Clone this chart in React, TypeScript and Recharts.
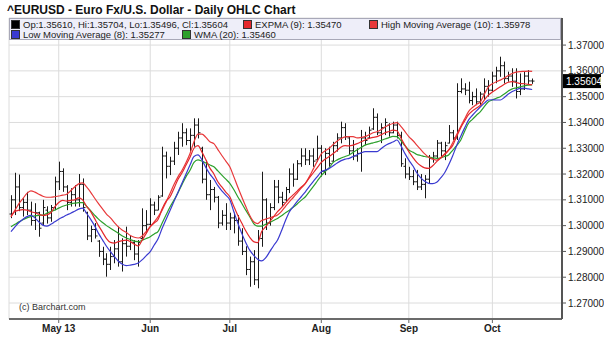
import React from 'react';
import { ComposedChart, Bar, Line, XAxis, YAxis, CartesianGrid, ReferenceLine } from 'recharts';

// daily EUR/USD bars, mid-April to mid-October
const opens = [
  1.3045, 1.31, 1.315, 1.307, 1.309, 1.306, 1.302, 1.305, 1.301, 1.306,
  1.303, 1.307, 1.317, 1.321, 1.315, 1.309, 1.312, 1.31, 1.316, 1.305,
  1.296, 1.2985, 1.294, 1.29, 1.287, 1.285, 1.288, 1.291, 1.286, 1.293,
  1.292, 1.2935, 1.289, 1.295, 1.3, 1.3005, 1.308, 1.306, 1.3115, 1.327,
  1.323, 1.325, 1.33, 1.334, 1.336, 1.333, 1.335, 1.339, 1.33, 1.318,
  1.312, 1.314, 1.311, 1.301, 1.304, 1.301, 1.303, 1.302, 1.294, 1.29,
  1.283, 1.286, 1.279, 1.295, 1.31, 1.301, 1.307, 1.315, 1.311, 1.31,
  1.314, 1.32, 1.318, 1.324, 1.327, 1.3255, 1.327, 1.3255, 1.33, 1.321,
  1.328, 1.325, 1.331, 1.334, 1.338, 1.334, 1.329, 1.327, 1.328, 1.334,
  1.334, 1.3375, 1.342, 1.336, 1.338, 1.339, 1.336, 1.339, 1.335, 1.323,
  1.32, 1.319, 1.317, 1.315, 1.316, 1.318, 1.326, 1.327, 1.332, 1.329,
  1.332, 1.336, 1.334, 1.352, 1.353, 1.3525, 1.3485, 1.35, 1.348, 1.351,
  1.354, 1.3525, 1.358, 1.36, 1.362, 1.357, 1.358, 1.356, 1.352, 1.353,
  1.358, 1.3561,
];
const highs = [
  1.3118, 1.3205, 1.3198, 1.3106, 1.3131, 1.3093, 1.3087, 1.3054, 1.31, 1.3075,
  1.308, 1.319, 1.3248, 1.3222, 1.3157, 1.3145, 1.3157, 1.32, 1.3183, 1.3054,
  1.3, 1.301, 1.2944, 1.2918, 1.2893, 1.2918, 1.2944, 1.2996, 1.2951, 1.2996,
  1.296, 1.2944, 1.2944, 1.3067, 1.306, 1.3106, 1.3093, 1.3118, 1.3306, 1.3287,
  1.3267, 1.3325, 1.3364, 1.3397, 1.3377, 1.3377, 1.3416, 1.3416, 1.3306, 1.3254,
  1.3177, 1.315, 1.3115, 1.306, 1.3087, 1.305, 1.305, 1.3041, 1.299, 1.292,
  1.288, 1.2905, 1.2983, 1.3209, 1.3106, 1.3087, 1.3177, 1.3177, 1.3131, 1.315,
  1.3222, 1.3241, 1.3254, 1.33, 1.33, 1.3293, 1.33, 1.3349, 1.3312, 1.33,
  1.3306, 1.3325, 1.3358, 1.3403, 1.3397, 1.3345, 1.3332, 1.33, 1.3371, 1.3364,
  1.3384, 1.3455, 1.3435, 1.3397, 1.3416, 1.3397, 1.3403, 1.3403, 1.3364, 1.3261,
  1.3228, 1.3216, 1.3216, 1.32, 1.3196, 1.3274, 1.3286, 1.3332, 1.3325, 1.3325,
  1.339, 1.3371, 1.3552, 1.3571, 1.3552, 1.3558, 1.3519, 1.3532, 1.3519, 1.3571,
  1.3564, 1.3597, 1.3616, 1.3655, 1.3636, 1.3597, 1.361, 1.361, 1.359, 1.3597,
  1.3603, 1.35704,
];
const lows = [
  1.3029, 1.3041, 1.3056, 1.3035, 1.3041, 1.3, 1.2983, 1.2957, 1.3, 1.3008,
  1.3015, 1.306, 1.3138, 1.3131, 1.306, 1.3074, 1.3074, 1.3073, 1.3054, 1.2944,
  1.2936, 1.295, 1.2879, 1.2847, 1.2802, 1.2828, 1.2854, 1.2841, 1.2822, 1.288,
  1.2905, 1.2866, 1.2841, 1.2944, 1.297, 1.3, 1.3041, 1.306, 1.3112, 1.3183,
  1.3196, 1.3235, 1.3274, 1.3306, 1.3312, 1.3287, 1.3306, 1.3338, 1.3164, 1.31,
  1.306, 1.309, 1.299, 1.3, 1.2983, 1.2983, 1.297, 1.2922, 1.2886, 1.2808,
  1.2763, 1.277, 1.2757, 1.2918, 1.2983, 1.3, 1.306, 1.3087, 1.3074, 1.3093,
  1.3126, 1.3151, 1.3177, 1.3228, 1.3235, 1.3235, 1.3228, 1.3248, 1.319, 1.3196,
  1.3228, 1.3248, 1.3287, 1.3319, 1.3332, 1.3274, 1.3254, 1.3248, 1.3209, 1.3312,
  1.3338, 1.3371, 1.3351, 1.332, 1.3351, 1.3345, 1.3358, 1.3338, 1.3228, 1.3183,
  1.3177, 1.3157, 1.3138, 1.3138, 1.3106, 1.3164, 1.3244, 1.3261, 1.3267, 1.3254,
  1.3319, 1.3332, 1.3332, 1.3513, 1.3506, 1.3474, 1.3467, 1.3467, 1.3467, 1.3487,
  1.35, 1.3519, 1.3552, 1.3577, 1.3551, 1.3558, 1.3538, 1.3493, 1.3506, 1.3526,
  1.3545, 1.35496,
];
const closes = [
  1.31, 1.315, 1.307, 1.309, 1.306, 1.302, 1.305, 1.299, 1.307, 1.303,
  1.307, 1.317, 1.321, 1.315, 1.309, 1.312, 1.31, 1.316, 1.307, 1.296,
  1.2985, 1.296, 1.29, 1.287, 1.285, 1.288, 1.291, 1.286, 1.293, 1.292,
  1.2935, 1.289, 1.2935, 1.3, 1.3005, 1.308, 1.306, 1.311, 1.327, 1.323,
  1.325, 1.33, 1.334, 1.336, 1.333, 1.335, 1.339, 1.336, 1.318, 1.312,
  1.314, 1.311, 1.301, 1.304, 1.301, 1.303, 1.302, 1.294, 1.29, 1.283,
  1.286, 1.279, 1.295, 1.31, 1.301, 1.307, 1.315, 1.311, 1.309, 1.314,
  1.32, 1.318, 1.324, 1.327, 1.3255, 1.327, 1.325, 1.33, 1.321, 1.328,
  1.324, 1.331, 1.334, 1.338, 1.3345, 1.329, 1.327, 1.328, 1.334, 1.333,
  1.337, 1.342, 1.336, 1.338, 1.34, 1.336, 1.339, 1.335, 1.324, 1.32,
  1.319, 1.317, 1.315, 1.316, 1.318, 1.326, 1.327, 1.332, 1.329, 1.331,
  1.336, 1.334, 1.352, 1.353, 1.3525, 1.3485, 1.35, 1.348, 1.351, 1.354,
  1.3525, 1.358, 1.36, 1.362, 1.357, 1.358, 1.356, 1.352, 1.353, 1.358,
  1.3561, 1.35604,
];

// studies as drawn on the chart
const highMa10 = [
  1.3035, 1.306, 1.3085, 1.3105, 1.3125, 1.3135, 1.313, 1.3122, 1.3114, 1.311,
  1.311, 1.3112, 1.3115, 1.3118, 1.3122, 1.3135, 1.315, 1.3162, 1.3166, 1.315,
  1.313, 1.3107, 1.3085, 1.3065, 1.3045, 1.303, 1.3012, 1.2995, 1.2982, 1.2973,
  1.2962, 1.2955, 1.2952, 1.296, 1.2978, 1.2996, 1.3015, 1.3035, 1.306, 1.3092,
  1.3126, 1.316, 1.319, 1.3215, 1.3245, 1.328, 1.3325, 1.3355, 1.3355, 1.3342,
  1.3325, 1.3318, 1.3295, 1.3272, 1.325, 1.3228, 1.319, 1.315, 1.3112, 1.3075,
  1.304, 1.3015, 1.3008, 1.302, 1.3025, 1.303, 1.3035, 1.3041, 1.3055, 1.3075,
  1.3093, 1.311, 1.3128, 1.3146, 1.3164, 1.319, 1.322, 1.325, 1.3278, 1.329,
  1.33, 1.3315, 1.3328, 1.3338, 1.3344, 1.3345, 1.3345, 1.334, 1.3342, 1.3345,
  1.3352, 1.336, 1.3364, 1.3372, 1.3382, 1.339, 1.3396, 1.3399, 1.3385, 1.3365,
  1.3345, 1.333, 1.3312, 1.3295, 1.3278, 1.3265, 1.3258, 1.3254, 1.3262, 1.3275,
  1.3293, 1.332, 1.3352, 1.3383, 1.3413, 1.3442, 1.3458, 1.347, 1.348, 1.351,
  1.3538, 1.355, 1.3558, 1.3564, 1.3572, 1.3582, 1.359, 1.3595, 1.3597, 1.3598,
  1.3599, 1.35978,
];
const expma9 = [
  1.3035, 1.3055, 1.306, 1.3062, 1.306, 1.3054, 1.305, 1.3044, 1.304, 1.3042,
  1.305, 1.3073, 1.309, 1.3098, 1.3095, 1.3098, 1.31, 1.3108, 1.31, 1.3075,
  1.3055, 1.3028, 1.3, 1.2975, 1.295, 1.2935, 1.2932, 1.2938, 1.2942, 1.2944,
  1.2938, 1.2928, 1.2921, 1.2945, 1.297, 1.2996, 1.301, 1.3025, 1.3065, 1.3095,
  1.3112, 1.3145, 1.318, 1.3205, 1.3235, 1.3265, 1.33, 1.331, 1.3285, 1.3255,
  1.3223, 1.32, 1.317, 1.315, 1.313, 1.3112, 1.3075, 1.304, 1.301, 1.298,
  1.2955, 1.2938, 1.2934, 1.2977, 1.2995, 1.3015, 1.3035, 1.3054, 1.307, 1.3088,
  1.3106, 1.312, 1.3135, 1.315, 1.3164, 1.3185, 1.3205, 1.3225, 1.3245, 1.3258,
  1.3268, 1.328, 1.3292, 1.3305, 1.331, 1.3309, 1.3312, 1.3318, 1.3325, 1.3332,
  1.3338, 1.3342, 1.3345, 1.3352, 1.336, 1.3365, 1.337, 1.3368, 1.334, 1.3312,
  1.3287, 1.3265, 1.3245, 1.3232, 1.3224, 1.3222, 1.3232, 1.3248, 1.3262, 1.3278,
  1.3293, 1.331, 1.3345, 1.3378, 1.3405, 1.343, 1.3445, 1.3456, 1.3467, 1.3488,
  1.3506, 1.3518, 1.3528, 1.3538, 1.3548, 1.3556, 1.3558, 1.3555, 1.3551, 1.355,
  1.3548, 1.3547,
];
const lowMa8 = [
  1.2977, 1.2995, 1.3012, 1.3025, 1.3035, 1.304, 1.303, 1.3015, 1.3002, 1.2998,
  1.3005, 1.3015, 1.3025, 1.3033, 1.3041, 1.3048, 1.3056, 1.3064, 1.3068, 1.3048,
  1.3025, 1.3, 1.297, 1.2945, 1.292, 1.2899, 1.288, 1.2862, 1.285, 1.2845,
  1.2847, 1.285, 1.2855, 1.2868, 1.2884, 1.2899, 1.2925, 1.295, 1.299, 1.3025,
  1.306, 1.3095, 1.313, 1.3165, 1.32, 1.3235, 1.3268, 1.3274, 1.3255, 1.3225,
  1.32, 1.318, 1.3155, 1.3135, 1.3118, 1.31, 1.3055, 1.301, 1.297, 1.2935,
  1.2905, 1.2885, 1.287, 1.2863, 1.2875, 1.2898, 1.2922, 1.2944, 1.298, 1.302,
  1.3054, 1.3075, 1.3095, 1.3113, 1.3131, 1.3152, 1.3172, 1.319, 1.3209, 1.3215,
  1.3222, 1.3232, 1.3243, 1.3252, 1.3258, 1.3261, 1.3268, 1.3275, 1.3282, 1.3287,
  1.3287, 1.3287, 1.3287, 1.3298, 1.331, 1.3318, 1.3324, 1.3332, 1.331, 1.328,
  1.3254, 1.3232, 1.3205, 1.3185, 1.3172, 1.3164, 1.3163, 1.3168, 1.3185, 1.3205,
  1.3235, 1.327, 1.331, 1.3345, 1.3378, 1.3409, 1.3428, 1.3445, 1.3461, 1.3475,
  1.3487, 1.3488, 1.3487, 1.3487, 1.3497, 1.351, 1.352, 1.3527, 1.3532, 1.3533,
  1.353, 1.35277,
];
const wma20 = [
  1.2996, 1.3005, 1.3015, 1.3023, 1.303, 1.3035, 1.3038, 1.304, 1.3041, 1.3048,
  1.3055, 1.306, 1.3068, 1.3075, 1.308, 1.3084, 1.3087, 1.3089, 1.3089, 1.3075,
  1.3058, 1.3041, 1.3025, 1.3012, 1.3, 1.299, 1.298, 1.297, 1.296, 1.2952,
  1.2946, 1.294, 1.2938, 1.2944, 1.295, 1.2957, 1.2968, 1.2978, 1.301, 1.3042,
  1.3073, 1.31, 1.3128, 1.316, 1.319, 1.3215, 1.3245, 1.3255, 1.325, 1.3243,
  1.3235, 1.3228, 1.3212, 1.3196, 1.318, 1.3164, 1.314, 1.3112, 1.3087, 1.306,
  1.3035, 1.3008, 1.2998, 1.2998, 1.3005, 1.3012, 1.302, 1.3028, 1.3038, 1.305,
  1.306, 1.3072, 1.3085, 1.3099, 1.3112, 1.3132, 1.3152, 1.3173, 1.3194, 1.321,
  1.3225, 1.3245, 1.3255, 1.3262, 1.3268, 1.3274, 1.3284, 1.3294, 1.3303, 1.3312,
  1.3317, 1.3321, 1.3325, 1.333, 1.3336, 1.3341, 1.3346, 1.3345, 1.333, 1.331,
  1.3293, 1.3285, 1.3276, 1.3272, 1.3268, 1.3266, 1.3263, 1.3261, 1.3263, 1.3268,
  1.3274, 1.3292, 1.331, 1.333, 1.3365, 1.3397, 1.3412, 1.3428, 1.3442, 1.3462,
  1.348, 1.3487, 1.3494, 1.35, 1.351, 1.3522, 1.353, 1.3534, 1.3538, 1.3542,
  1.3545, 1.3546,
];

const monthTicks = [12, 35, 55, 78, 100, 121];
const monthLabels = ['May 13', 'Jun', 'Jul', 'Aug', 'Sep', 'Oct'];
const priceTicks = [1.27, 1.28, 1.29, 1.3, 1.31, 1.32, 1.33, 1.34, 1.35, 1.36, 1.37];
const emptySlots = 7;

const data = Array.from({ length: closes.length + emptySlots }, (_, i) =>
  i < closes.length
    ? {
        i,
        range: [lows[i], highs[i]],
        open: opens[i],
        high: highs[i],
        low: lows[i],
        close: closes[i],
        expma: expma9[i],
        highMa: highMa10[i],
        lowMa: lowMa8[i],
        wma: wma20[i],
      }
    : { i }
);

const last = closes.length - 1;
const FONT = '"Liberation Sans", Arial, sans-serif';

const OhlcBar = (props: any) => {
  const { x, y, width, height, payload } = props;
  if (!payload || payload.high == null) return null;
  const top = Math.min(y, y + height);
  const h = Math.abs(height);
  const span = payload.high - payload.low || 1;
  const at = (v: number) => top + ((payload.high - v) / span) * h;
  const cx = Math.round(x + width / 2) + 0.5;
  return (
    <g stroke="#1a1a1a" strokeWidth={1}>
      <line x1={cx} x2={cx} y1={top} y2={top + Math.max(h, 1)} />
      <line x1={cx - 2} x2={cx} y1={at(payload.open)} y2={at(payload.open)} />
      <line x1={cx} x2={cx + 2} y1={at(payload.close)} y2={at(payload.close)} />
    </g>
  );
};

const PriceTag = (props: any) => {
  const { viewBox } = props;
  if (!viewBox) return null;
  const x = viewBox.x + viewBox.width + 1;
  const y = viewBox.y;
  return (
    <g>
      <rect x={x} y={y - 7} width={38} height={14} fill="#000" />
      <text x={x + 3} y={y + 4} fill="#fff" fontSize={10} fontFamily={FONT}>
        {closes[last].toFixed(5)}
      </text>
    </g>
  );
};

const Swatch = ({ color }: { color: string }) => (
  <span
    style={{
      display: 'inline-block',
      width: 7,
      height: 7,
      background: color,
      border: '1px solid #333',
      marginRight: 3,
      verticalAlign: -1,
    }}
  />
);

export default function App() {
  return (
    <div
      style={{
        position: 'fixed',
        left: 0,
        top: 0,
        width: 604,
        height: 355,
        background: '#fff',
        fontFamily: FONT,
      }}
    >
      <ComposedChart
        width={604}
        height={355}
        data={data}
        margin={{ top: 18, right: 0, bottom: 16, left: 9 }}
        barCategoryGap={0}
      >
        <CartesianGrid yAxisId="p" stroke="#dcdcdc" strokeWidth={1} />
        <XAxis
          dataKey="i"
          type="category"
          ticks={monthTicks}
          interval={0}
          tickFormatter={(v) => monthLabels[monthTicks.indexOf(v)] ?? ''}
          height={20}
          tickSize={4}
          tickLine={{ stroke: '#666' }}
          axisLine={{ stroke: '#6b6b6b', strokeWidth: 2 }}
          tick={{ fontSize: 10, fontWeight: 'bold', fill: '#222', fontFamily: FONT }}
        />
        <YAxis
          yAxisId="l"
          orientation="left"
          width={0}
          domain={[1.2638, 1.3805]}
          tick={false}
          tickLine={false}
          axisLine={{ stroke: '#6b6b6b', strokeWidth: 2 }}
        />
        <YAxis
          yAxisId="p"
          orientation="right"
          width={42}
          domain={[1.2638, 1.3805]}
          ticks={priceTicks}
          interval={0}
          allowDataOverflow
          tickFormatter={(v) => v.toFixed(5)}
          tickSize={4}
          tickMargin={2}
          tickLine={{ stroke: '#555' }}
          axisLine={{ stroke: '#555', strokeWidth: 2 }}
          tick={{ fontSize: 10, fill: '#222', fontFamily: FONT, textAnchor: 'start' }}
        />
        <Bar yAxisId="p" dataKey="range" shape={OhlcBar} isAnimationActive={false} />
        <Line yAxisId="p" type="monotone" dataKey="wma" stroke="#2ca02c" strokeWidth={1.2} dot={false} isAnimationActive={false} />
        <Line yAxisId="p" type="monotone" dataKey="lowMa" stroke="#3a3ad0" strokeWidth={1.2} dot={false} isAnimationActive={false} />
        <Line yAxisId="p" type="monotone" dataKey="highMa" stroke="#e8383a" strokeWidth={1.2} dot={false} isAnimationActive={false} />
        <Line yAxisId="p" type="monotone" dataKey="expma" stroke="#e4282c" strokeWidth={1.2} dot={false} isAnimationActive={false} />
        <ReferenceLine yAxisId="p" y={closes[last]} stroke="none" label={<PriceTag />} />
      </ComposedChart>

      <div
        style={{
          position: 'absolute',
          left: 7,
          top: 3,
          fontSize: 12,
          fontWeight: 'bold',
          color: '#111',
          whiteSpace: 'nowrap',
        }}
      >
        ^EURUSD - Euro Fx/U.S. Dollar - Daily OHLC Chart
      </div>

      <div
        style={{
          position: 'absolute',
          left: 9,
          top: 18,
          width: 552,
          height: 22,
          boxSizing: 'border-box',
          background: '#eeeef9',
          border: '1px solid #a8a8b8',
          fontSize: 9.5,
          color: '#222',
          lineHeight: '11px',
          whiteSpace: 'nowrap',
        }}
      >
        <div style={{ position: 'absolute', left: 1, top: 0 }}>
          <Swatch color="#000" />
          Op:{opens[last].toFixed(5)}, Hi:{highs[last].toFixed(5)}, Lo:{lows[last].toFixed(5)}, Cl:
          {closes[last].toFixed(5)}
        </div>
        <div style={{ position: 'absolute', left: 233, top: 0 }}>
          <Swatch color="#e4282c" />
          EXPMA (9): {expma9[last].toFixed(5)}
        </div>
        <div style={{ position: 'absolute', left: 359, top: 0 }}>
          <Swatch color="#e8383a" />
          High Moving Average (10): {highMa10[last].toFixed(5)}
        </div>
        <div style={{ position: 'absolute', left: 1, top: 10 }}>
          <Swatch color="#3a3ad0" />
          Low Moving Average (8): {lowMa8[last].toFixed(5)}
        </div>
        <div style={{ position: 'absolute', left: 172, top: 10 }}>
          <Swatch color="#2ca02c" />
          WMA (20): {wma20[last].toFixed(5)}
        </div>
      </div>

      <div
        style={{
          position: 'absolute',
          left: 19,
          top: 302,
          fontSize: 9,
          color: '#333',
        }}
      >
        (c) Barchart.com
      </div>
    </div>
  );
}
